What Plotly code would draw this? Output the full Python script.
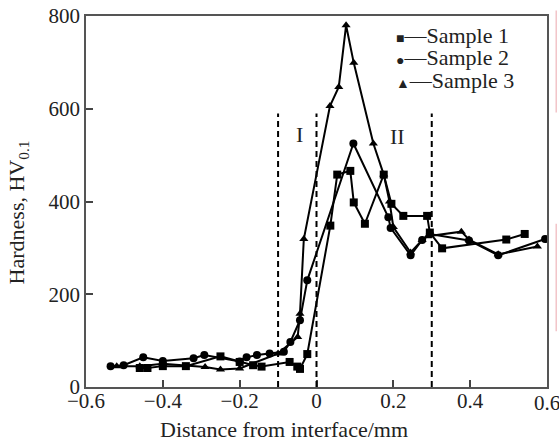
import plotly.graph_objects as go

# Daten (Abstand zur Grenzfläche in mm, Härte HV0.1)
s1_x = [-0.46, -0.44, -0.40, -0.34, -0.25, -0.20, -0.165, -0.143, -0.07, -0.05, -0.043, -0.024,
        0.036, 0.054, 0.088, 0.097, 0.126, 0.175, 0.195, 0.226, 0.288, 0.295, 0.327, 0.494, 0.542]
s1_y = [41, 41, 45, 45, 66, 54, 47, 44, 54, 44, 39, 71,
        348, 458, 466, 398, 352, 458, 395, 369, 369, 333, 299, 318, 330]

s2_x = [-0.536, -0.502, -0.451, -0.40, -0.32, -0.292, -0.20, -0.182, -0.155, -0.122, -0.085,
        -0.068, -0.043, -0.024, 0.096, 0.187, 0.193, 0.245, 0.275, 0.295, 0.397, 0.473, 0.595]
s2_y = [45, 47, 64, 56, 62, 69, 55, 64, 69, 72, 76,
        97, 144, 230, 525, 366, 343, 284, 317, 330, 316, 284, 319]

s3_x = [-0.52, -0.46, -0.40, -0.29, -0.25, -0.20, -0.10, -0.049, -0.043, -0.033, 0.035, 0.058,
        0.077, 0.097, 0.148, 0.175, 0.19, 0.20, 0.245, 0.275, 0.29, 0.377, 0.397, 0.473, 0.575]
s3_y = [45, 45, 50, 43, 38, 40, 72, 108, 158, 319, 606, 647,
        780, 699, 525, 458, 400, 345, 290, 317, 325, 335, 318, 286, 303]

namen = ["Sample 1", "Sample 2", "Sample 3"]
symbole = ["square", "circle", "triangle-up"]
glyphen = ["\u25a0", "\u25cf", "\u25b2"]

grenzen = [-0.1, 0, 0.3]
bereiche = ["I", "II"]
bereich_x = [-0.045, 0.21]
bereich_y = [545, 541]

x_ticks = [-0.6, -0.4, -0.2, 0, 0.2, 0.4, 0.6]
x_text = ["\u22120.6", "\u22120.4", "\u22120.2", "0", "0.2", "0.4", "0.6"]
y_ticks = [0, 200, 400, 600, 800]

schrift = "Liberation Serif, Times New Roman, serif"

fig = go.Figure()
for xs, ys, name, sym in zip([s1_x, s2_x, s3_x], [s1_y, s2_y, s3_y], namen, symbole):
    fig.add_trace(go.Scatter(x=xs, y=ys, name=name, mode="lines+markers",
                             line=dict(color="black", width=2),
                             marker=dict(symbol=sym, size=8, color="black")))

# gestrichelte Bereichsgrenzen
for g in grenzen:
    fig.add_shape(type="line", xref="x", yref="y", x0=g, x1=g, y0=0, y1=590,
                  line=dict(color="black", width=2, dash="6px,4px"))

for txt, bx, by in zip(bereiche, bereich_x, bereich_y):
    fig.add_annotation(x=bx, y=by, text=txt, showarrow=False,
                       font=dict(family=schrift, size=22, color="#222"))

# eigene Legende: Symbol, Strich, Name
for i, (name, gl) in enumerate(zip(namen, glyphen)):
    fig.add_annotation(xref="paper", yref="paper", x=0.668, y=0.948 - i * 0.061,
                       xanchor="left", yanchor="middle", showarrow=False,
                       text='<span style="font-size:14px">' + gl + '</span>\u2014' + name,
                       font=dict(family=schrift, size=22, color="#222"))

# letzte x-Beschriftung ragt über den Rand, daher als Annotation
fig.add_annotation(x=x_ticks[-1], xref="x", yref="paper", y=-0.006, yanchor="top",
                   text=x_text[-1], showarrow=False,
                   font=dict(family=schrift, size=21, color="#222"))

# Achsentitel als Annotationen
fig.add_annotation(xref="paper", yref="paper", x=0.43, y=-0.115, yanchor="middle",
                   text="Distance from interface/mm", showarrow=False,
                   font=dict(family=schrift, size=22, color="#222"))
fig.add_annotation(xref="paper", yref="paper", x=-0.148, y=0.47, textangle=-90,
                   xanchor="center", yanchor="middle",
                   text="Hardness, HV<sub>0.1</sub>", showarrow=False,
                   font=dict(family=schrift, size=22, color="#222"))

# hellroter Rand rechts (Beschnittkante im Original)
for y0, y1 in [(0.74, 1.015), (0.15, 0.44)]:
    fig.add_shape(type="line", xref="paper", yref="paper", x0=1.02, x1=1.02, y0=y0, y1=y1,
                  line=dict(color="#f2c4c8", width=1.5))

fig.update_layout(
    width=559, height=443,
    margin=dict(l=86, r=12, t=16, b=56, autoexpand=False),
    paper_bgcolor="white", plot_bgcolor="white",
    showlegend=False,
    font=dict(family=schrift, size=21, color="#222"),
)
fig.update_xaxes(range=[-0.6, 0.6], tickvals=x_ticks[:-1], ticktext=x_text[:-1], automargin=False,
                 ticks="inside", ticklen=7, tickwidth=1.5, tickcolor="#444",
                 ticklabelstandoff=-6,
                 showline=True, linecolor="#555", linewidth=1.5, mirror=True,
                 showgrid=False, zeroline=False)
fig.update_yaxes(range=[0, 800], tickvals=y_ticks, automargin=False,
                 ticks="inside", ticklen=7, tickwidth=1.5, tickcolor="#444",
                 showline=True, linecolor="#555", linewidth=1.5, mirror=True,
                 showgrid=False, zeroline=False)

# Seitenrand entfernen, damit die Grafik genau im Fenster sitzt
fig.write_html("out.html", config={"displayModeBar": False},
               post_script="document.body.style.margin='0px';")
